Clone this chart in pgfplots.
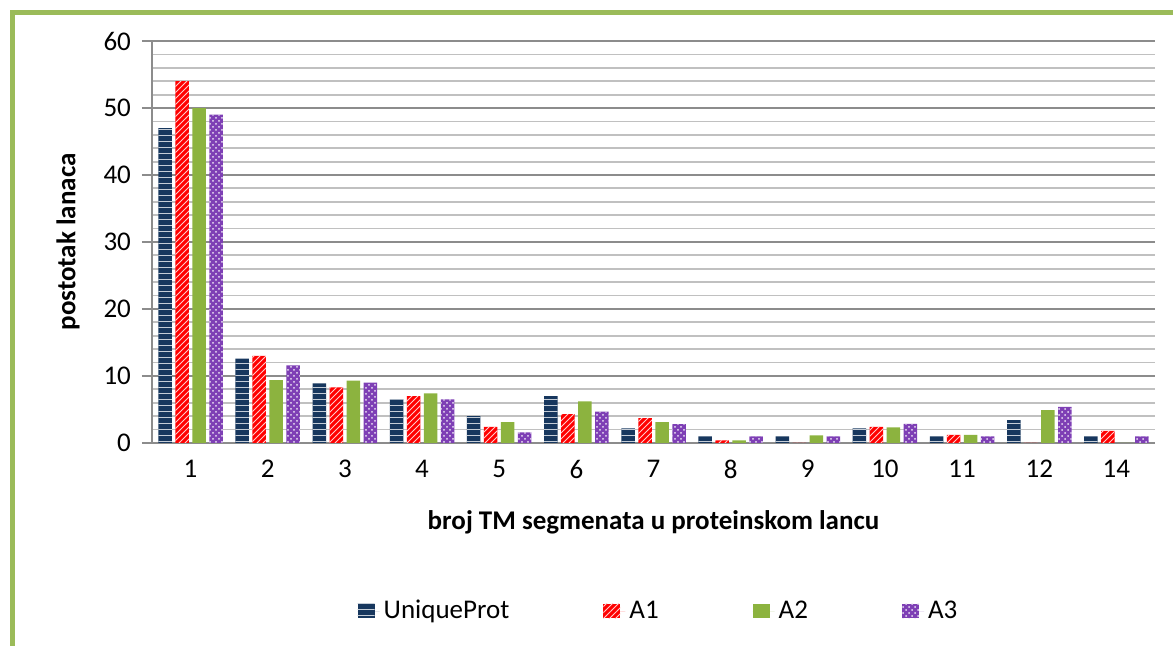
\documentclass[border=0pt]{standalone}
\usepackage{fontspec}
\setmainfont{Carlito}
\usepackage{pgfplots}
\pgfplotsset{compat=1.18}
\usetikzlibrary{patterns}

\definecolor{upnavy}{HTML}{17375E}
\definecolor{a1red}{HTML}{FF0000}
\definecolor{a2green}{HTML}{8CB33F}
\definecolor{a3purple}{HTML}{7E3FB5}
\definecolor{framegreen}{HTML}{9BBB59}
\definecolor{gridmajor}{HTML}{8C8C8C}
\definecolor{gridminor}{HTML}{C0C0C0}

\pgfplotstableread{
cat U    A1   A2   A3
0   47   54   50   49
1   12.6 13   9.4  11.6
2   8.9  8.3  9.3  9.0
3   6.5  7.0  7.4  6.5
4   4.0  2.4  3.1  1.6
5   7.0  4.3  6.2  4.7
6   2.2  3.7  3.1  2.8
7   1.0  0.4  0.4  1.0
8   1.0  0    1.15 1.0
9   2.2  2.4  2.35 2.85
10  1.0  1.2  1.2  1.0
11  3.4  0    4.9  5.4
12  1.0  1.8  0    1.0
}\segdata

\begin{document}
\begin{tikzpicture}
\path[use as bounding box] (-76pt,-101.5pt) rectangle (510.5pt,221.5pt);
\begin{axis}[
    at={(0,0)}, anchor=south west,
    scale only axis,
    width=501.5pt, height=201pt,
    ybar=1.75pt, bar width=6.75pt,
    font=\fontsize{13.5}{16}\selectfont,
    /pgf/number format/assume math mode=true,
    xmin=-0.5, xmax=12.5,
    ymin=0, ymax=60,
    xtick=data,
    xticklabels={1,2,3,4,5,6,7,8,9,10,11,12,14},
    ytick={0,10,...,60},
    minor y tick num=4,
    axis x line=bottom, axis y line=left,
    axis line style={gridmajor, line width=1pt, -},
    x tick style={draw=none},
    y tick style={gridmajor, line width=1pt},
    minor y tick style={draw=none},
    tick align=outside, major tick length=5pt,
    yticklabel style={xshift=-2pt},
    ymajorgrids, yminorgrids,
    major grid style={gridmajor, line width=1pt},
    minor grid style={gridminor, line width=0.9pt},
    xlabel={\textbf{broj TM segmenata u proteinskom lancu}},
    ylabel={\textbf{postotak lanaca}},
    every axis x label/.style={at={(axis description cs:0.5,-0.1965)}, anchor=center},
    every axis y label/.style={at={(axis description cs:-0.0837,0.5)}, rotate=90, anchor=center},
    legend columns=4,
    legend style={at={(axis description cs:0.506,-0.418)}, anchor=center, draw=none,
        /tikz/every even column/.append style={column sep=45pt}},
    legend image code/.code={\fill[#1] (0pt,-3.7pt) rectangle (8.5pt,3.7pt);
        \path (0pt,0pt) -- (11pt,0pt);},
]
\addplot[draw=none, fill=upnavy, postaction={pattern=horizontal lines, pattern color=white!75!upnavy}] table[x=cat, y=U] {\segdata};
\addplot[draw=none, fill=a1red, postaction={pattern=north east lines, pattern color=white!80!a1red}] table[x=cat, y=A1] {\segdata};
\addplot[draw=none, fill=a2green] table[x=cat, y=A2] {\segdata};
\addplot[draw=none, fill=a3purple, postaction={pattern=crosshatch dots, pattern color=white!85!a3purple}] table[x=cat, y=A3] {\segdata};
\legend{UniqueProt, A1, A2, A3}
\end{axis}
\draw[framegreen, line width=2.5pt] (-69.75pt,-101.5pt) -- (-69.75pt,215.25pt) -- (510.5pt,215.25pt);
\end{tikzpicture}
\end{document}
